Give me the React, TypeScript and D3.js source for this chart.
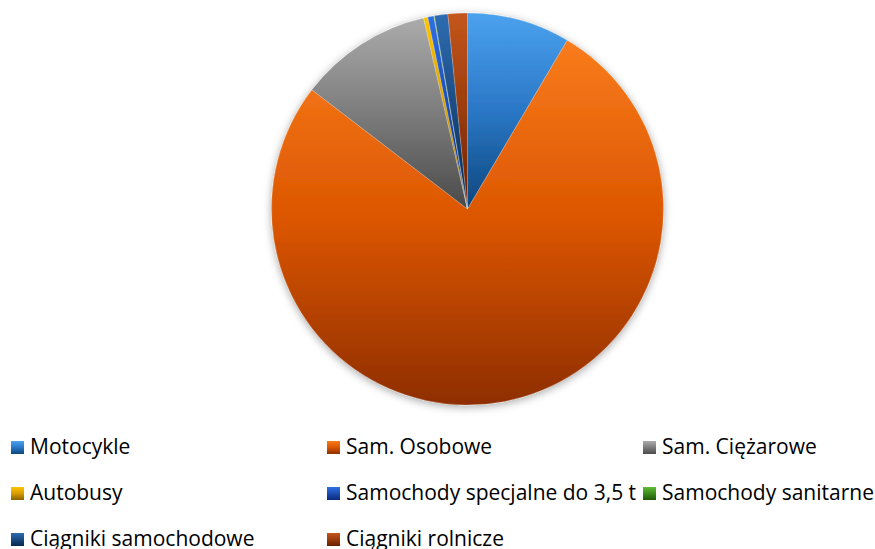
import React from 'react';
import * as d3 from 'd3';

const categories = [
  'Motocykle',
  'Sam. Osobowe',
  'Sam. Ciężarowe',
  'Autobusy',
  'Samochody specjalne do 3,5 t',
  'Samochody sanitarne',
  'Ciągniki samochodowe',
  'Ciągniki rolnicze',
];
const values = [8.5, 76.9, 11.0, 0.35, 0.5, 0.05, 1.1, 1.6];
// top / middle / bottom colour of each slice gradient
const lightColors = ['#4ba2ee', '#f97c1c', '#ababab', '#ffc400', '#2f6fe4', '#62bd36', '#2e6cb2', '#c4561c'];
const midColors = ['#2a77c6', '#db5500', '#7c7c7c', '#d69c00', '#1b4cb0', '#3f8c1e', '#1a4a80', '#9a3c0c'];
const darkColors = ['#0d467c', '#8e2e00', '#4a4a4a', '#8a6100', '#0a2a7a', '#1f5a08', '#052a50', '#6c1e00'];

const W = 875;
const H = 549;
const cx = 467.5;
const cy = 209;
const R = 196;

const App: React.FC = () => {
  const pie = d3.pie<number>().sort(null).value(d => d);
  const arcs = pie(values);
  const arc = d3.arc<d3.PieArcDatum<number>>().innerRadius(0).outerRadius(R);

  const colX = [11, 327, 643];
  const rowY = [441, 487, 533];

  return (
    <svg width={W} height={H} style={{ position: 'absolute', left: 0, top: 0, fontFamily: "'Open Sans', 'Liberation Sans', sans-serif" }}>
      <defs>
        {categories.map((c, i) => (
          <linearGradient key={c} id={`g${i}`} x1="0" y1="0" x2="0" y2="1">
            <stop offset="0" stopColor={lightColors[i]} />
            <stop offset="0.5" stopColor={midColors[i]} />
            <stop offset="1" stopColor={darkColors[i]} />
          </linearGradient>
        ))}
        <filter id="shadow" x="-10%" y="-10%" width="120%" height="125%">
          <feDropShadow dx="0" dy="2" stdDeviation="4" floodColor="#000" floodOpacity="0.35" />
        </filter>
      </defs>
      <g transform={`translate(${cx},${cy})`} filter="url(#shadow)">
        {arcs.map((a, i) => (
          <path key={i} d={arc(a) || ''} fill={`url(#g${i})`} stroke="#ffffff" strokeOpacity={0.35} strokeWidth={0.6} />
        ))}
      </g>
      <g>
        {categories.map((c, i) => {
          const x = colX[i % 3];
          const y = rowY[Math.floor(i / 3)];
          return (
            <g key={c} transform={`translate(${x},${y})`}>
              <rect width={13} height={13} fill={`url(#g${i})`} />
              <text x={19} y={13} fontSize={21} fill="#000">{c}</text>
            </g>
          );
        })}
      </g>
    </svg>
  );
};

export default App;
